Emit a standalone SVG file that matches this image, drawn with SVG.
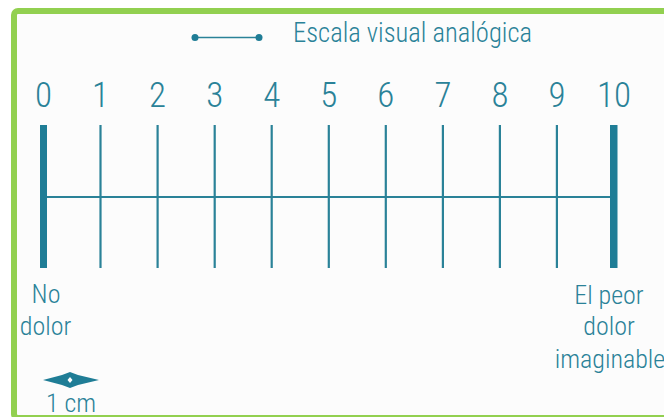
<svg xmlns="http://www.w3.org/2000/svg" width="664" height="417" viewBox="0 0 664 417">
<style>
.t{font-family:"Roboto Condensed","Liberation Sans Narrow","Liberation Sans",Arial,sans-serif;font-weight:300;fill:#2a8298}
.n{font-size:35px;text-anchor:middle}
.l{font-size:26px;text-anchor:middle}
.tick{stroke:#2a8298;stroke-width:2.2}
.bar{fill:#1f7d96}
</style>
<rect width="664" height="417" fill="#ffffff"/>
<rect x="14" y="11" width="700" height="407" rx="4" fill="#fcfcfc" stroke="#92d050" stroke-width="6"/>
<g id="title">
<line x1="195" y1="37.5" x2="259" y2="37.5" stroke="#2a8298" stroke-width="1.6"/>
<circle cx="195" cy="37.5" r="3.5" fill="#1f7d96"/>
<circle cx="259" cy="37.5" r="3.5" fill="#1f7d96"/>
<text class="t" x="293" y="42" font-size="27" textLength="239" lengthAdjust="spacingAndGlyphs">Escala visual analógica</text>
</g>
<g id="numbers" class="t n">
<text x="43.5" y="107">0</text>
<text x="100.5" y="107">1</text>
<text x="157.6" y="107">2</text>
<text x="214.7" y="107">3</text>
<text x="271.7" y="107">4</text>
<text x="328.8" y="107">5</text>
<text x="385.8" y="107">6</text>
<text x="442.9" y="107">7</text>
<text x="499.9" y="107">8</text>
<text x="556.9" y="107">9</text>
<text x="614" y="107">10</text>
</g>
<g id="scale">
<rect class="bar" x="40" y="125" width="7" height="143"/>
<rect class="bar" x="610" y="125" width="7.5" height="143"/>
<line class="tick" x1="47" y1="197" x2="610" y2="197"/>
<line class="tick" x1="100.5" y1="125" x2="100.5" y2="268"/>
<line class="tick" x1="157.6" y1="125" x2="157.6" y2="268"/>
<line class="tick" x1="214.7" y1="125" x2="214.7" y2="268"/>
<line class="tick" x1="271.7" y1="125" x2="271.7" y2="268"/>
<line class="tick" x1="328.8" y1="125" x2="328.8" y2="268"/>
<line class="tick" x1="385.8" y1="125" x2="385.8" y2="268"/>
<line class="tick" x1="442.9" y1="125" x2="442.9" y2="268"/>
<line class="tick" x1="499.9" y1="125" x2="499.9" y2="268"/>
<line class="tick" x1="556.9" y1="125" x2="556.9" y2="268"/>
</g>
<g id="label-left" class="t l">
<text x="46" y="303">No</text>
<text x="45.5" y="335">dolor</text>
</g>
<g id="label-right" class="t l">
<text x="609" y="304">El peor</text>
<text x="609" y="335">dolor</text>
<text x="610" y="368">imaginable</text>
</g>
<g id="unit">
<polygon points="43,380 62,375 70,372 78,375 99,380 78,385 70,388 62,385" fill="#1f7d96"/>
<polygon points="70,377 72.5,380 70,383 67.5,380" fill="#ffffff"/>
<text class="t" x="71" y="412" font-size="26" text-anchor="middle">1 cm</text>
</g>
</svg>
